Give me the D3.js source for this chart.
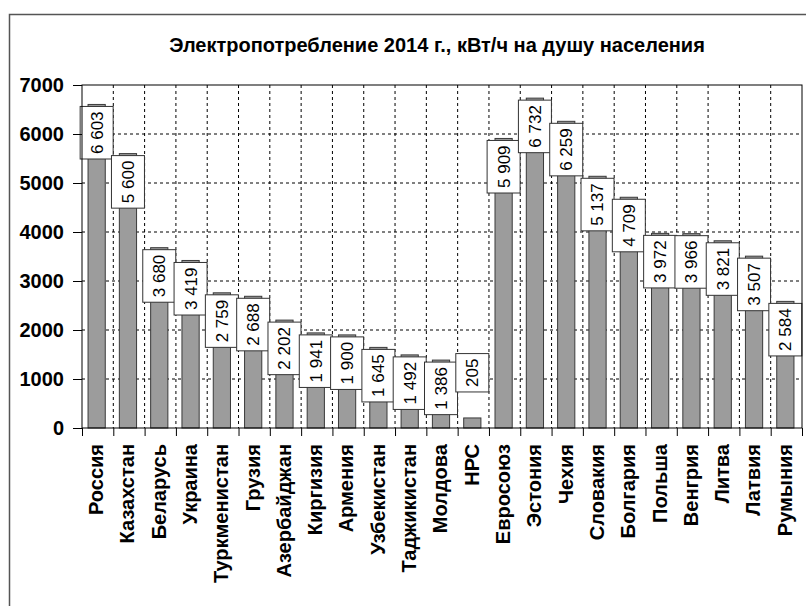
<!DOCTYPE html>
<html lang="ru">
<head>
  <meta charset="UTF-8">
  <title>Электропотребление 2014</title>
  <script src="https://cdn.jsdelivr.net/npm/d3@7"></script>
  <style>
    body { margin: 0; background: #fff; }
    svg { display: block; font-family: "Liberation Sans", Arial, sans-serif; }
    .grid line { stroke: #000; stroke-width: 1; stroke-dasharray: 3,3; }
    .bar { fill: #9c9c9c; stroke: #3a3a3a; stroke-width: 1; }
    .label-box { fill: #fff; stroke: #333; stroke-width: 1; }
    .label-text { font-size: 17px; fill: #000; }
    .axis path, .axis line { stroke: #000; stroke-width: 1; }
    .axis text { font-size: 20px; font-weight: bold; fill: #000; }
  </style>
</head>
<body>
  <div id="chart"></div>
  <script>
    const countries = ["Россия", "Казахстан", "Беларусь", "Украина", "Туркменистан", "Грузия",
      "Азербайджан", "Киргизия", "Армения", "Узбекистан", "Таджикистан", "Молдова", "НРС",
      "Евросоюз", "Эстония", "Чехия", "Словакия", "Болгария", "Польша", "Венгрия", "Литва",
      "Латвия", "Румыния"];
    const consumption = [6603, 5600, 3680, 3419, 2759, 2688, 2202, 1941, 1900, 1645, 1492, 1386, 205,
      5909, 6732, 6259, 5137, 4709, 3972, 3966, 3821, 3507, 2584];
    const yTicks = [0, 1000, 2000, 3000, 4000, 5000, 6000, 7000];
    const chartTitle = "Электропотребление 2014 г., кВт/ч на душу населения";

    const w = 806;
    const h = 606;
    const plotLeft = 82, plotRight = 802, plotTop = 85, plotBottom = 428;

    const dataset = countries.map((c, i) => ({ name: c, value: consumption[i] }));
    const fmt = (v) => d3.format(",")(v).replace(/,/g, " ");

    const x = d3.scaleBand()
      .domain(countries)
      .range([plotLeft, plotRight])
      .paddingInner(0.45)
      .paddingOuter(0.225);

    const xEdge = d3.scaleLinear()
      .domain([0, countries.length])
      .range([plotLeft, plotRight]);

    const y = d3.scaleLinear()
      .domain([0, 7000])
      .range([plotBottom, plotTop]);

    const svg = d3.select("#chart")
      .append("svg")
      .attr("width", w)
      .attr("height", h);

    // outer frame
    svg.append("rect")
      .attr("x", 9.5).attr("y", 14.5)
      .attr("width", 900).attr("height", 700)
      .attr("fill", "none")
      .attr("stroke", "#555")
      .attr("stroke-width", 1.5);

    svg.append("text")
      .attr("x", 437)
      .attr("y", 52)
      .attr("text-anchor", "middle")
      .style("font-size", "20px")
      .style("font-weight", "bold")
      .text(chartTitle);

    // grid
    const grid = svg.append("g").attr("class", "grid");
    grid.selectAll(".h")
      .data(yTicks.slice(1, -1))
      .enter()
      .append("line")
      .attr("x1", plotLeft).attr("x2", plotRight)
      .attr("y1", (d) => y(d)).attr("y2", (d) => y(d));
    grid.selectAll(".v")
      .data(d3.range(1, countries.length))
      .enter()
      .append("line")
      .attr("x1", (d) => xEdge(d)).attr("x2", (d) => xEdge(d))
      .attr("y1", plotTop).attr("y2", plotBottom);

    // bars
    svg.selectAll(".bar")
      .data(dataset)
      .enter()
      .append("rect")
      .attr("class", "bar")
      .attr("x", (d) => x(d.name) - 1)
      .attr("y", (d) => y(d.value))
      .attr("width", x.bandwidth())
      .attr("height", (d) => plotBottom - y(d.value));

    // value labels
    const padText = 5, boxW = 33;
    const labels = svg.selectAll(".label")
      .data(dataset)
      .enter()
      .append("g")
      .attr("class", "label");

    labels.each(function(d) {
      const g = d3.select(this);
      const t = g.append("text")
        .attr("class", "label-text")
        .attr("text-anchor", "middle")
        .attr("dy", "0.35em")
        .text(fmt(d.value));
      const len = t.node().getComputedTextLength();
      const boxH = len + padText * 2;
      let boxTop = y(d.value) + 2;
      if (boxTop + boxH > plotBottom - 8) boxTop = y(d.value) - boxH - 26;
      const cx = x(d.name) - 1 + x.bandwidth() / 2;
      const cy = boxTop + boxH / 2;
      g.insert("rect", "text")
        .attr("class", "label-box")
        .attr("x", cx - boxW / 2)
        .attr("y", boxTop)
        .attr("width", boxW)
        .attr("height", boxH);
      t.attr("transform", "translate(" + cx + "," + cy + ") rotate(-90)");
    });

    // plot border
    svg.append("rect")
      .attr("x", plotLeft).attr("y", plotTop)
      .attr("width", plotRight - plotLeft).attr("height", plotBottom - plotTop)
      .attr("fill", "none")
      .attr("stroke", "#000");

    // axes
    svg.append("g")
      .attr("class", "axis")
      .attr("transform", "translate(" + plotLeft + ",0)")
      .call(d3.axisLeft(y).tickValues(yTicks).tickFormat(d3.format("d")).tickSize(9).tickPadding(9))
      .call((g) => g.select(".domain").remove());

    svg.append("g")
      .attr("class", "axis")
      .attr("transform", "translate(0," + plotBottom + ")")
      .call(d3.axisBottom(xEdge).tickValues(d3.range(0, countries.length + 1)).tickFormat("").tickSize(8))
      .call((g) => g.select(".domain").remove());

    const xAxis = svg.append("g")
      .attr("class", "axis")
      .attr("transform", "translate(0," + plotBottom + ")")
      .call(d3.axisBottom(x).tickSize(0));
    xAxis.select(".domain").remove();
    xAxis.selectAll("text")
      .attr("text-anchor", "end")
      .attr("x", 0)
      .attr("y", 0)
      .attr("dy", "0.27em")
      .attr("transform", "translate(0,16) rotate(-90)");
  </script>
</body>
</html>
